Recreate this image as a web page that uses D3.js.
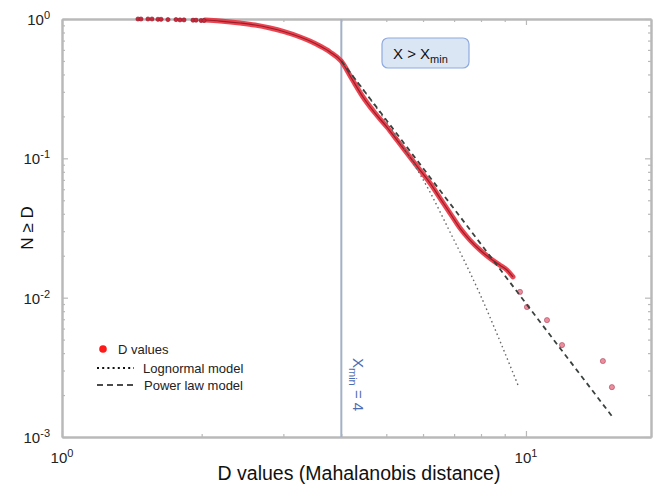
<!DOCTYPE html>
<html>
<head>
<meta charset="utf-8">
<title>CCDF of D values</title>
<script src="https://cdn.jsdelivr.net/npm/d3@7"></script>
<style>
  body { margin: 0; padding: 0; background: #fff; }
  svg { font-family: "Liberation Sans", Arial, sans-serif; }
  .frame path, .frame line { stroke: #b9b9b9; }
  .frame path { stroke-width: 2; }
  .frame line { stroke-width: 1.2; }
  .tick-label { font-size: 15px; fill: #222; }
</style>
</head>
<body>
<div id="chart"></div>
<script>
// ---- data ----
// empirical CCDF, the scattered points at N = 1 on the left
var topDotsX = [1.458, 1.480, 1.532, 1.563, 1.610, 1.635, 1.692, 1.761, 1.796, 1.832, 1.916, 1.945, 1.994, 2.023];
var topDotsY = [1.0, 1.0, 1.0, 1.0, 0.995, 0.995, 0.99, 0.99, 0.985, 0.985, 0.98, 0.98, 0.975, 0.975];

// empirical CCDF, the dense part that reads as a thick band
var denseX = [2.033, 2.191, 2.419, 2.606, 2.808, 3.024, 3.259, 3.423, 3.597, 3.781, 3.995,
              4.217, 4.454, 4.727, 5.016, 5.272, 5.623, 5.909, 6.210, 6.527, 6.859, 7.207,
              7.574, 7.959, 8.364, 8.790, 9.100, 9.376];
var denseY = [0.984, 0.967, 0.936, 0.906, 0.862, 0.807, 0.743, 0.695, 0.640, 0.580, 0.500,
              0.371, 0.2755, 0.2114, 0.1678, 0.1353, 0.1022, 0.0824, 0.0665, 0.0519, 0.0405, 0.0316,
              0.0259, 0.0220, 0.0192, 0.0171, 0.0158, 0.0141];

// empirical CCDF, sparse tail
var tailX = [9.707, 10.05, 11.10, 11.96, 14.65, 15.32];
var tailY = [0.0110, 0.00857, 0.0069, 0.00457, 0.00351, 0.00228];

// lognormal model (dotted)
var lognX = [4.0, 4.612, 5.351, 6.210, 6.859, 7.387, 7.959, 8.790, 9.611];
var lognY = [0.5, 0.2666, 0.1309, 0.0573, 0.0296, 0.0180, 0.0106, 0.00488, 0.00236];

// power law model (dashed)
var powX = [4.0, 6.0, 8.0, 10.0, 12.0, 15.4];
var powY = [0.5, 0.085, 0.0242, 0.0091, 0.0041, 0.00138];

var xMin = 4;
var xDomain = [1, 18.6];
var yDomain = [1e-3, 1];
var xMajor = [1, 10];
var xMajorExp = ["0", "1"];
var yMajor = [1, 0.1, 0.01, 0.001];
var yMajorExp = ["0", "-1", "-2", "-3"];

// ---- layout ----
var W = 654, H = 486;
var margin = { top: 19, right: 3, bottom: 49, left: 62 };

var svg = d3.select("#chart").append("svg")
  .attr("width", W)
  .attr("height", H);

var x = d3.scaleLog().domain(xDomain).range([margin.left, W - margin.right]);
var y = d3.scaleLog().domain(yDomain).range([H - margin.bottom, margin.top]);

// minor ticks 2..9 per decade
var xMinor = [], yMinor = [];
for (var k = 0; k < 2; k++) for (var m = 2; m <= 9; m++) {
  var v = m * Math.pow(10, k);
  if (v <= xDomain[1]) xMinor.push(v);
}
for (var k = -3; k < 0; k++) for (var m = 2; m <= 9; m++) yMinor.push(m * Math.pow(10, k));

// box: axes on all four sides with inward ticks
function frame(axisFn, scale, ticks, len, tr) {
  svg.append("g").attr("class", "frame").attr("transform", tr)
    .call(axisFn(scale).tickValues(ticks).tickSizeInner(-len).tickSizeOuter(0).tickFormat(""));
}
var bottomY = H - margin.bottom, rightX = W - margin.right;
frame(d3.axisBottom, x, xMinor, 3, "translate(0," + bottomY + ")");
frame(d3.axisBottom, x, xMajor, 6, "translate(0," + bottomY + ")");
frame(d3.axisTop, x, xMinor, 3, "translate(0," + margin.top + ")");
frame(d3.axisTop, x, xMajor, 6, "translate(0," + margin.top + ")");
frame(d3.axisLeft, y, yMinor, 3, "translate(" + margin.left + ",0)");
frame(d3.axisLeft, y, yMajor, 6, "translate(" + margin.left + ",0)");
frame(d3.axisRight, y, yMinor, 3, "translate(" + rightX + ",0)");
frame(d3.axisRight, y, yMajor, 6, "translate(" + rightX + ",0)");

// tick labels as 10^n with superscripts
xMajor.forEach(function (v, i) {
  var t = svg.append("text").attr("class", "tick-label")
    .attr("x", x(v)).attr("y", bottomY + 26).attr("text-anchor", "middle");
  t.append("tspan").text("10");
  t.append("tspan").attr("dy", -6).attr("font-size", "11px").text(xMajorExp[i]);
});
yMajor.forEach(function (v, i) {
  var t = svg.append("text").attr("class", "tick-label")
    .attr("x", margin.left - 12).attr("y", y(v) + 6).attr("text-anchor", "end");
  t.append("tspan").text("10");
  t.append("tspan").attr("dy", -6).attr("font-size", "11px").text(yMajorExp[i]);
});

// axis titles
svg.append("text")
  .attr("x", 359).attr("y", 480)
  .attr("text-anchor", "middle")
  .attr("font-size", "19.5px").attr("fill", "#111")
  .text("D values (Mahalanobis distance)");
svg.append("text")
  .attr("transform", "translate(33," + ((margin.top + bottomY) / 2) + ") rotate(-90)")
  .attr("text-anchor", "middle")
  .attr("font-size", "17px").attr("fill", "#111")
  .text("N \u2265 D");

// x_min line
svg.append("line")
  .attr("x1", x(xMin)).attr("x2", x(xMin))
  .attr("y1", margin.top).attr("y2", bottomY)
  .attr("stroke", "#a3b0c6").attr("stroke-width", 2);

var xl = svg.append("text")
  .attr("transform", "translate(" + (x(xMin) + 12) + ",358) rotate(90)")
  .attr("font-size", "15px").attr("fill", "#4d6db0");
xl.append("tspan").text("X");
xl.append("tspan").attr("dy", 4).attr("font-size", "11px").text("min");
xl.append("tspan").attr("dy", -4).text(" = 4");

// data: empirical CCDF
var line = d3.line()
  .x(function (d) { return x(d[0]); })
  .y(function (d) { return y(d[1]); })
  .curve(d3.curveMonotoneX);

var dense = d3.zip(denseX, denseY);
svg.append("path").datum(dense)
  .attr("d", line)
  .attr("fill", "none").attr("stroke", "#e8323e")
  .attr("stroke-width", 5).attr("stroke-opacity", 0.9)
  .attr("stroke-linecap", "round");
svg.append("path").datum(dense)
  .attr("d", line)
  .attr("fill", "none").attr("stroke", "#9c1c2a")
  .attr("stroke-width", 1.2);

svg.selectAll(".topdot").data(d3.zip(topDotsX, topDotsY)).enter()
  .append("circle").attr("class", "topdot")
  .attr("cx", function (d) { return x(d[0]); })
  .attr("cy", function (d) { return y(d[1]); })
  .attr("r", 2.1)
  .attr("fill", "#c8283a").attr("stroke", "#8e1a28").attr("stroke-width", 0.6);

svg.selectAll(".taildot").data(d3.zip(tailX, tailY)).enter()
  .append("circle").attr("class", "taildot")
  .attr("cx", function (d) { return x(d[0]); })
  .attr("cy", function (d) { return y(d[1]); })
  .attr("r", 2.6)
  .attr("fill", "#e2506a").attr("fill-opacity", 0.65)
  .attr("stroke", "#9c3048").attr("stroke-width", 0.5);

// models
var curve = d3.line()
  .x(function (d) { return x(d[0]); })
  .y(function (d) { return y(d[1]); })
  .curve(d3.curveMonotoneX);

svg.append("path").datum(d3.zip(lognX, lognY))
  .attr("d", curve)
  .attr("fill", "none").attr("stroke", "#666")
  .attr("stroke-width", 1.4).attr("stroke-dasharray", "1.5,3");

svg.append("path").datum(d3.zip(powX, powY))
  .attr("d", curve)
  .attr("fill", "none").attr("stroke", "#3a423e")
  .attr("stroke-width", 1.8).attr("stroke-dasharray", "5,4");

// annotation box
var box = svg.append("g").attr("transform", "translate(382,38)");
box.append("rect")
  .attr("width", 87).attr("height", 30).attr("rx", 6)
  .attr("fill", "#dbe6f5").attr("stroke", "#8eaae0").attr("stroke-width", 1.2);
var bt = box.append("text").attr("x", 11).attr("y", 21)
  .attr("font-size", "15px").attr("fill", "#111");
bt.append("tspan").text("X > X");
bt.append("tspan").attr("dy", 4).attr("font-size", "11px").text("min");

// legend
var lg = svg.append("g").attr("transform", "translate(97,349)");
lg.append("circle").attr("cx", 6).attr("cy", 0).attr("r", 3.8).attr("fill", "#ff1a1a");
lg.append("text").attr("x", 21).attr("y", 5).attr("font-size", "13px").attr("fill", "#222").text("D values");
lg.append("line").attr("x1", 0).attr("x2", 37).attr("y1", 19).attr("y2", 19)
  .attr("stroke", "#111").attr("stroke-width", 2).attr("stroke-dasharray", "2,3.2");
lg.append("text").attr("x", 46).attr("y", 24).attr("font-size", "13px").attr("fill", "#222").text("Lognormal model");
lg.append("line").attr("x1", 0).attr("x2", 37).attr("y1", 36).attr("y2", 36)
  .attr("stroke", "#111").attr("stroke-width", 1.4).attr("stroke-dasharray", "6,4");
lg.append("text").attr("x", 47).attr("y", 41).attr("font-size", "13px").attr("fill", "#222").text("Power law model");
</script>
</body>
</html>
